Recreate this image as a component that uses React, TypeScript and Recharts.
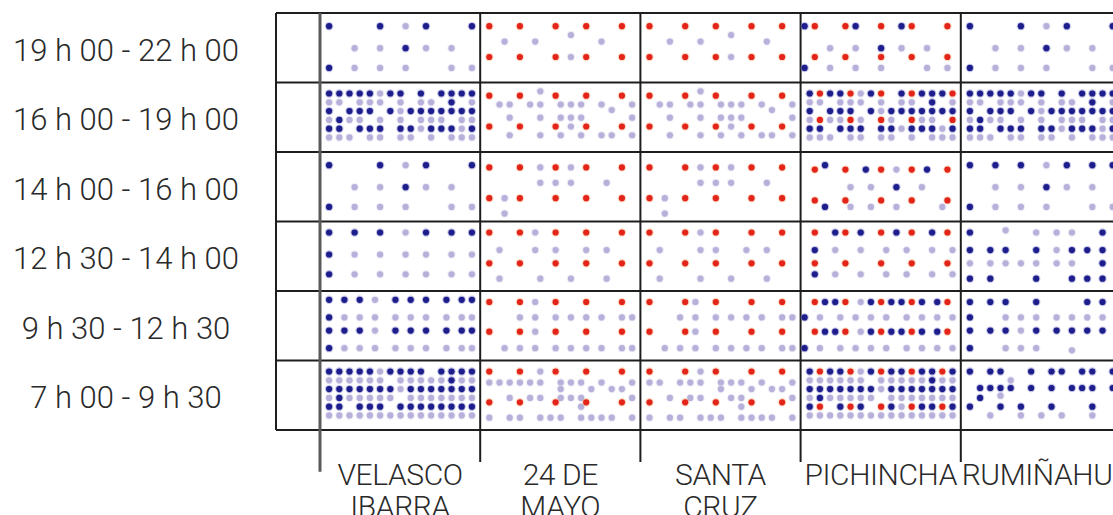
import { ScatterChart, Scatter, XAxis, YAxis, ReferenceLine } from "recharts";

// y axis categories, bottom row first
const timeSlots = [
  "7 h 00 - 9 h 30",
  "9 h 30 - 12 h 30",
  "12 h 30 - 14 h 00",
  "14 h 00 - 16 h 00",
  "16 h 00 - 19 h 00",
  "19 h 00 - 22 h 00",
];

// x axis categories (one or two lines each)
const barrios = [["VELASCO", "IBARRA"], ["24 DE", "MAYO"], ["SANTA", "CRUZ"], ["PICHINCHA"], ["RUMIÑAHUI"]];

// Each cell is a list of [level, pattern] rows, cells listed from 19h (top) down to 7h.
// level: 0 = top of the dot band, 20 = bottom. pattern: 15 chars = dense grid,
// 30 chars = fine grid. B = dark blue, L = lilac, R = red, "." = nothing.
type Row = [number, string];

const velascoIbarra: Row[][] = [
  [
    [1, ".B.........B....L...B........B"],
    [11, "......L....L....B...L....L...."],
    [20, ".B....L....L....L........L...L"],
  ],
  [
    [0, "BBBBBLBB.B.BBBB"],
    [4, "LL.LLL.L.LL.B.L"],
    [8, "B.BBB.BLBBBBBBB"],
    [12, "LBLL.L.L.LLL.LL"],
    [16, "BB.BBB.BBLBBBLB"],
    [20, "LLL.LL.LL.L.LLL"],
  ],
  [
    [1, ".B.........B....L...B........B"],
    [11, "......L....L....B...L....L...."],
    [20, ".B....L....L....L........L...L"],
  ],
  [
    [0, ".B....B....B....L...B....B...B"],
    [10, ".B....L....L....L...L....L...L"],
    [19, ".B....L....L....L...L....L...L"],
  ],
  [
    [-1, ".B..B..B..L...B..B..B...B..B.B"],
    [7, ".B..L..L..L...L..L..L...L..L.L"],
    [13, ".B..B..B..L...B..B..B...B..B.B"],
    [21, ".B..L..L..L...L..L..L...L..L.L"],
  ],
  [
    [0, "BBBBBLBBBB.BBBB"],
    [4, "LLLLLL.LLLLLBLL"],
    [8, "BBBBBBBLBBBBBBB"],
    [12, "LBLLLLL.LLLLLLL"],
    [16, "BB.BBB.BBBBBBBB"],
    [20, "LLLLLLLLLLLLLLL"],
  ],
];

const mayo24: Row[][] = [
  [
    [1, ".R.....R......R.....R......R.."],
    [5, ".................L............"],
    [8, "....L.....L............L......"],
    [15, ".R.....R......R..L..R......R.."],
  ],
  [
    [-1, "...........L.................."],
    [1, ".R.....R......R.....R......R.."],
    [5, "...L.L...L.L...L.L.L...L.....L"],
    [7.5, ".........................L...."],
    [11, ".....L.....L...L.L.L.........L"],
    [15, ".R.....R......R..L..R......R.."],
    [19, ".....L.....L...L...L...L.L...L"],
  ],
  [
    [2, ".R.....R...L..R..L..R......R.."],
    [9, "...........L..L..L......L....."],
    [16, ".R..L..R......R.....R......R.."],
    [23, "....L........................."],
  ],
  [
    [0, ".R.....R..L...R.....R......R.."],
    [8, "...L......L...L.....L...L....."],
    [14, ".R.....R......R.....R......R.."],
    [21, "...L.......L.....L......L....."],
  ],
  [
    [0, ".R.....R..L...R.....R......R.."],
    [7, ".......L..L...L..L..L..L...L.L"],
    [13.5, ".R.....R..L...R.....R......R.."],
    [21, "....L..L..L...L..L..L..L...L.L"],
  ],
  [
    [0, ".R.....R...L..R.....R......R.."],
    [5, ".L.L.L.L.L.L...L.L.L...L.....L"],
    [8, "...............L.....L...L.L.."],
    [12, ".....L...L.L...L.L.L.........L"],
    [14, ".R.....R......R.....R......R.."],
    [16, "...................L.........."],
    [21, ".L...L.L...L.L.L...L.L.L.L...L"],
  ],
];

const santaCruz: Row[][] = [
  [
    [1, ".R......R.....R......R.....R.."],
    [5, ".................L............"],
    [8, ".....L.....L............L....."],
    [15, ".R......R.....R..L...R.....R.."],
  ],
  [
    [-1, "...........L.................."],
    [1, ".R......R.....R......R.....R.."],
    [5, "...L.L...L.L...L.L.L...L.....L"],
    [7.5, ".........................L...."],
    [11, ".....L.....L...L.L.L.........L"],
    [15, ".R......R.....R..L...R.....R.."],
    [19, ".....L.....L...L...L...L.L...L"],
  ],
  [
    [2, ".R......R..L..R..L...R.....R.."],
    [9, "...........L..L..L......L....."],
    [16, ".R..L...R.....R......R.....R.."],
    [23, "....L........................."],
  ],
  [
    [0, ".R......R..L..R......R.....R.."],
    [8, "...L.......L..L.....L...L....."],
    [14, ".R......R.....R......R.....R.."],
    [21, "...L.......L.....L......L....."],
  ],
  [
    [0, ".R......R.L...R......R.....R.."],
    [7, ".......L..L...L..L..L..L...L.L"],
    [13.5, ".R......R.L...R......R.....R.."],
    [21, "....L..L..L...L..L..L..L...L.L"],
  ],
  [
    [0, ".R......R..L..R......R.....R.."],
    [5, ".L.L...L.L.L...L.L.L...L.....L"],
    [8, "...............L.....L...L.L.."],
    [12, ".....L...L.L.....L.L.........L"],
    [14, ".R......R.....R......R.....R.."],
    [16, "...................L.........."],
    [21, ".L...L.L...L.L.L...L.L.L.L...L"],
  ],
];

const pichincha: Row[][] = [
  [
    [1, "B.R.....R.B....R...B.R......R."],
    [11, ".....L....L....B...L....L....."],
    [15, "..R.....R......R.....R......R."],
    [20, "B....L....L....L........L...L."],
  ],
  [
    [0, "BRBBRLBR.BRBBBR"],
    [4, "LL.LLL.L.LL.B.L"],
    [8, "B.BBB.BLBBBBBBB"],
    [12, "LRLLRL.RL.RLL.R"],
    [16, "BB.BBB.BBLBBBLB"],
    [20, "LLL.LL.LL.L.LLL"],
  ],
  [
    [1, "....B........................."],
    [3, "..R.....R...B..R..L..R..B...R."],
    [11, ".........L...L....B....L......"],
    [17, "..R.....R......R.....R......R."],
    [20, "....B....L...L....L........L.."],
  ],
  [
    [0, "..R...B.R..B...R..B..R...B..R."],
    [8, "..B...L....L....L...L....L...L"],
    [14, "..R.....R......R.....R......R."],
    [19, "..B...L....L....L...L....L...L"],
  ],
  [
    [0, "..R.B.B.R..L.B.R.B.B.R.B..B.R."],
    [7, "B..L...L..L..L..L...L..L..L..L"],
    [13.5, "..R.B.B.R..L.B.R.B.B.R.B..B.R."],
    [21, "B..L...L..L..L..L...L..L..L..L"],
  ],
  [
    [0, "BRBBRLBRBBRBBRB"],
    [4, "LLLLLL.LLLLLBLL"],
    [8, "BBBBBBBLBBBBBBB"],
    [12, "LBLLLLL.LLLLLLL"],
    [16, "BR.BRB.RBLRBBRB"],
    [20, "LLLLLLLLLLLLLLL"],
  ],
];

const rumiñahui: Row[][] = [
  [
    [1, ".B.........B....L...B........B"],
    [11, "......L....L....B...L....L...."],
    [20, ".B....L....L....L........L...L"],
  ],
  [
    [0, "BBBBBLBB.B.BBBB"],
    [4, "LL.LLL.L.LL.B.L"],
    [8, "B.BBB.BLBBBBBBB"],
    [12, "LBLL.L.L.LLL.LL"],
    [16, "BB.BBB.BBLBBBLB"],
    [20, "LLL.LL.LL.L.LLL"],
  ],
  [
    [1, ".B....B....B....L...B....B...B"],
    [11, "......L....L....B...L....L...."],
    [20, ".B....L....L....L........L...L"],
  ],
  [
    [-1, "........L....................."],
    [0, ".B............L...L..L.....B.."],
    [8, ".B...B..B.....B...L..B..B..B.."],
    [14, ".L...L..L..L..L...L..L.....B.."],
    [21, ".B...B........B......B..B..B.."],
  ],
  [
    [0, ".B...B..B.....B.........B..B.."],
    [7, ".B......L..L..L...L..L..L..L.."],
    [13, ".B...B..B..L..B...B..B..B..B.."],
    [21, ".B......L..L..L..............."],
    [22, ".....................L........"],
  ],
  [
    [0, "B.BB..B.BB.BB.B"],
    [4, "....L.........."],
    [7.5, ".BBBB.B.B.BBB.B"],
    [11, "...L..........."],
    [12, ".B............."],
    [16, "B..B.B..B...B.."],
    [20, "..L..L.L.L..L.."],
  ],
];

const columns = [velascoIbarra, mayo24, santaCruz, pichincha, rumiñahui];

// label column on the left of the grid, as a fraction of a data column
const X_MIN = -0.2746;
const X_MAX = 5;
const X_PAD = 0.025;
const X_STEP = 0.03184;
const Y_PAD = 0.158;
const Y_STEP = 0.03165;

type Pt = { x: number; y: number };

function buildPoints() {
  const pts: Record<string, Pt[]> = { B: [], L: [], R: [] };
  columns.forEach((cells, c) => {
    cells.forEach((rows, i) => {
      const top = timeSlots.length - i;
      rows.forEach(([level, pattern]) => {
        pattern.split("").forEach((ch, k) => {
          if (!pts[ch]) return;
          const f = pattern.length <= 15 ? 2 * k + 1 : k;
          pts[ch].push({ x: c + X_PAD + f * X_STEP, y: top - Y_PAD - level * Y_STEP });
        });
      });
    });
  });
  return pts;
}

const points = buildPoints();

const dotStyles: Record<string, { core: string; halo: string }> = {
  B: { core: "#1d1d8c", halo: "#6a68c0" },
  L: { core: "#b7b0da", halo: "#d8d3ec" },
  R: { core: "#e3241b", halo: "#f6a66c" },
};

const dotShape = (key: string) => (p: any) => (
  <g>
    <circle cx={p.cx} cy={p.cy} r={4.2} fill={dotStyles[key].halo} fillOpacity={0.4} />
    <circle cx={p.cx} cy={p.cy} r={3.1} fill={dotStyles[key].core} />
  </g>
);

const labelFont = {
  fontFamily: "Roboto, 'DejaVu Sans', sans-serif",
  fontWeight: 300,
  fontSize: 30,
  fill: "#2a2a2a",
};

function SlotTick({ y, payload }: any) {
  return (
    <text x={126} y={y + 13} textAnchor="middle" {...labelFont} fontSize={31}>
      {timeSlots[Math.floor(payload.value)]}
    </text>
  );
}

function BarrioTick({ x, y, payload }: any) {
  const lines = barrios[Math.floor(payload.value)];
  return (
    <text x={x} y={y} textAnchor="middle" {...labelFont} letterSpacing={-0.4}>
      {lines.map((l, i) => (
        <tspan key={l} x={x} dy={i === 0 ? 55 : 32}>
          {l}
        </tspan>
      ))}
    </text>
  );
}

const rowLines = [0, 1, 2, 3, 4, 5, 6];
const colLines = [0, 1, 2, 3, 4];

export default function App() {
  return (
    <div
      style={{
        position: "fixed",
        left: 0,
        top: 0,
        width: 1113,
        height: 515,
        overflow: "hidden",
        background: "#fff",
      }}
    >
      <ScatterChart width={1125} height={515} margin={{ top: 13, right: 4, bottom: 0, left: 0 }}>
        <XAxis
          type="number"
          dataKey="x"
          domain={[X_MIN, X_MAX]}
          ticks={[0.5, 1.5, 2.5, 3.5, 4.5]}
          allowDataOverflow
          height={85}
          axisLine={false}
          tickLine={false}
          tickSize={0}
          tickMargin={0}
          interval={0}
          tick={<BarrioTick />}
        />
        <YAxis
          type="number"
          dataKey="y"
          domain={[0, 6]}
          ticks={[0.5, 1.5, 2.5, 3.5, 4.5, 5.5]}
          allowDataOverflow
          width={276}
          axisLine={false}
          tickLine={false}
          interval={0}
          tick={<SlotTick />}
        />
        {rowLines.map((r) => (
          <ReferenceLine key={"r" + r} y={r} stroke="#1e1e1e" strokeWidth={2} ifOverflow="visible" />
        ))}
        <ReferenceLine x={X_MIN} stroke="#1e1e1e" strokeWidth={2} ifOverflow="visible" />
        {colLines.map((c) => (
          <ReferenceLine
            key={"c" + c}
            segment={[
              { x: c, y: 6 },
              { x: c, y: c === 0 ? -0.6 : -0.46 },
            ]}
            stroke={c === 0 ? "#5a5a5a" : "#1e1e1e"}
            strokeWidth={c === 0 ? 3 : 2}
            ifOverflow="visible"
          />
        ))}
        {["L", "B", "R"].map((k) => (
          <Scatter key={k} data={points[k]} shape={dotShape(k)} isAnimationActive={false} />
        ))}
      </ScatterChart>
    </div>
  );
}
